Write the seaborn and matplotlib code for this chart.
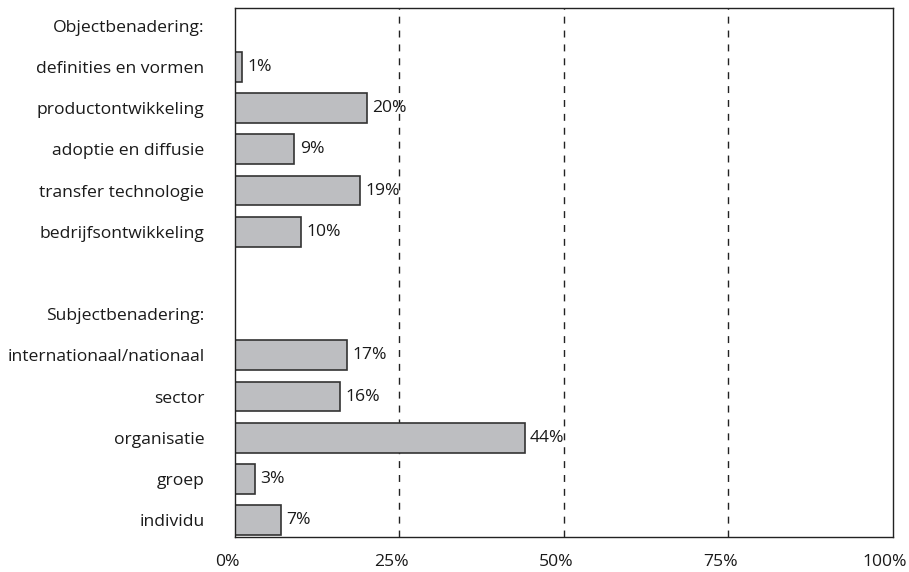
import matplotlib
matplotlib.use("Agg")
import matplotlib.pyplot as plt
import matplotlib.transforms as mtransforms
import seaborn as sns
import pandas as pd

# Data
order = ["Objectbenadering:", "definities en vormen", "productontwikkeling",
         "adoptie en diffusie", "transfer technologie", "bedrijfsontwikkeling",
         " ", "Subjectbenadering:", "internationaal/nationaal", "sector",
         "organisatie", "groep", "individu"]
categories = ["definities en vormen", "productontwikkeling", "adoptie en diffusie",
              "transfer technologie", "bedrijfsontwikkeling",
              "internationaal/nationaal", "sector", "organisatie", "groep", "individu"]
values = [1, 20, 9, 19, 10, 17, 16, 44, 3, 7]
xticks = [0, 25, 50, 75, 100]
xticklabels = ["0%", "25%", "50%", "75%", "100%"]

df = pd.DataFrame({"cat": categories, "val": values})

sns.set_theme(style="white")
plt.rcParams["font.family"] = ["Open Sans", "DejaVu Sans"]

FS = 12.6
TXT = "#1a1a1a"

fig = plt.figure(figsize=(9.09, 5.72), dpi=100)
ax = fig.add_axes([235/909, 1-537/572, (893-235)/909, (537-8)/572])

sns.barplot(data=df, x="val", y="cat", order=order, orient="h", ax=ax,
            color="#bdbec1", edgecolor="#333333", linewidth=1.2, width=0.72,
            saturation=1)

for x in [25, 50, 75]:
    ax.axvline(x, color="#222222", linestyle=(0, (5, 5)), linewidth=1.0, zorder=0)

val_map = dict(zip(categories, values))
for i, c in enumerate(order):
    if c in val_map:
        v = val_map[c]
        ax.annotate(f"{v}%", xy=(v, i), xytext=(4, 0), textcoords="offset points",
                    ha="left", va="center", fontsize=FS, color=TXT)

ax.set_xlim(0, 100)
ax.set_ylim(12.41, -0.43)
ax.set_xticks(xticks)
ax.set_xticklabels(xticklabels, fontsize=FS, color=TXT)
ax.tick_params(axis="y", labelsize=FS, pad=22, length=0, labelcolor=TXT)
ax.tick_params(axis="x", pad=12, length=0)
offset = mtransforms.ScaledTranslation(-8/100, 0, fig.dpi_scale_trans)
for lab in ax.get_xticklabels():
    lab.set_transform(lab.get_transform() + offset)
ax.set_xlabel("")
ax.set_ylabel("")
for s in ax.spines.values():
    s.set_visible(True)
    s.set_color("#222222")
    s.set_linewidth(1.0)

fig.savefig("out.png", dpi=100)
